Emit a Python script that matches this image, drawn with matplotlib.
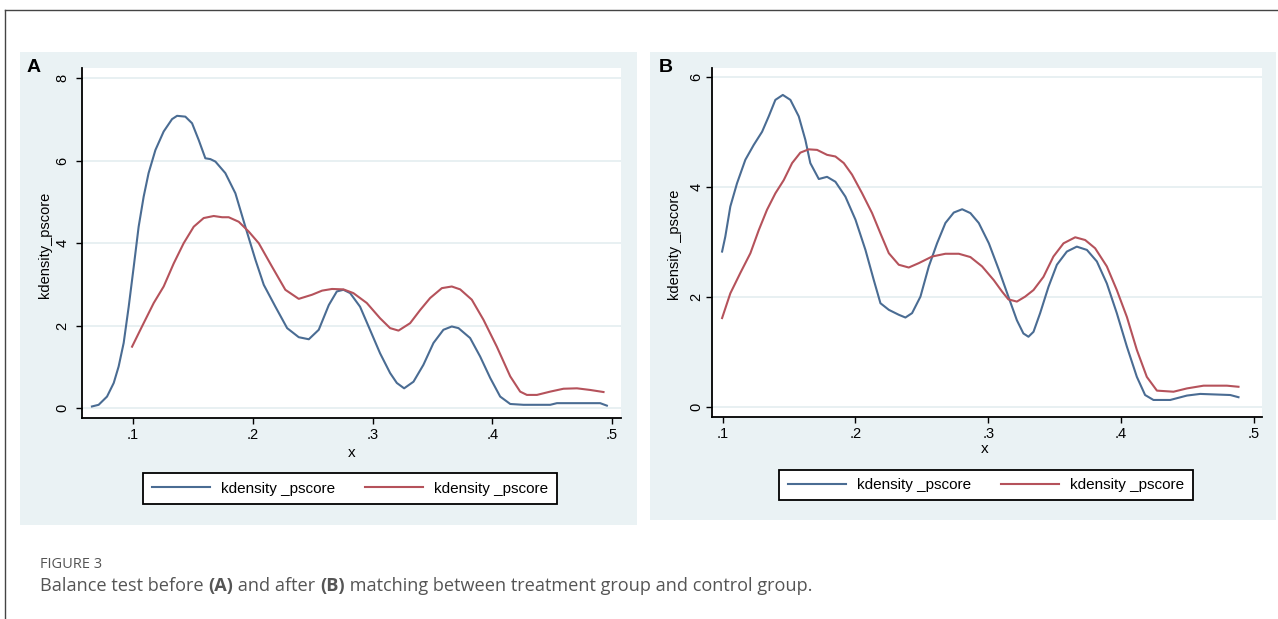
import matplotlib
matplotlib.use("Agg")
import matplotlib.pyplot as plt
from matplotlib.patches import Rectangle
from matplotlib.lines import Line2D

# Panel A: before matching
a_blue_x = [0.0657, 0.0713, 0.0783, 0.0839, 0.0880, 0.0922, 0.0964, 0.1006, 0.1047, 0.1089,
            0.1130, 0.1187, 0.1256, 0.1326, 0.1368, 0.1437, 0.1493, 0.1549, 0.1604, 0.1646,
            0.1688, 0.1771, 0.1855, 0.1938, 0.2022, 0.2092, 0.2189, 0.2287, 0.2384, 0.2468,
            0.2551, 0.2635, 0.2702, 0.2757, 0.2813, 0.2896, 0.2979, 0.3063, 0.3147, 0.3203,
            0.3264, 0.3342, 0.3425, 0.3509, 0.3592, 0.3662, 0.3718, 0.3815, 0.3899, 0.3983,
            0.4066, 0.4150, 0.4261, 0.4484, 0.4540, 0.4901, 0.4957]
a_blue_y = [0.04, 0.08, 0.28, 0.61, 1.01, 1.58, 2.46, 3.43, 4.40, 5.13,
            5.70, 6.26, 6.71, 7.01, 7.09, 7.07, 6.91, 6.50, 6.06, 6.04,
            5.98, 5.70, 5.21, 4.40, 3.60, 2.99, 2.46, 1.94, 1.72, 1.67,
            1.90, 2.50, 2.83, 2.87, 2.79, 2.46, 1.90, 1.33, 0.85, 0.61,
            0.48, 0.64, 1.05, 1.58, 1.90, 1.98, 1.94, 1.70, 1.25, 0.73,
            0.28, 0.10, 0.08, 0.08, 0.12, 0.12, 0.06]
a_red_x = [0.0992, 0.1075, 0.1173, 0.1256, 0.1340, 0.1423, 0.1507, 0.1590, 0.1674, 0.1744,
           0.1799, 0.1883, 0.1967, 0.2050, 0.2161, 0.2272, 0.2384, 0.2495, 0.2579, 0.2662,
           0.2757, 0.2840, 0.2952, 0.3063, 0.3147, 0.3217, 0.3314, 0.3398, 0.3481, 0.3579,
           0.3662, 0.3732, 0.3829, 0.3927, 0.4038, 0.4150, 0.4233, 0.4289, 0.4373, 0.4484,
           0.4595, 0.4707, 0.4818, 0.4929]
a_red_y = [1.49, 1.98, 2.55, 2.95, 3.51, 4.00, 4.40, 4.61, 4.66, 4.63,
           4.63, 4.52, 4.28, 4.00, 3.43, 2.87, 2.65, 2.75, 2.85, 2.89,
           2.88, 2.79, 2.55, 2.18, 1.94, 1.88, 2.06, 2.38, 2.67, 2.91,
           2.95, 2.88, 2.63, 2.14, 1.49, 0.77, 0.40, 0.32, 0.32, 0.40,
           0.47, 0.48, 0.44, 0.39]

# Panel B: after matching
b_blue_x = [0.0996, 0.1020, 0.1058, 0.1108, 0.1171, 0.1234, 0.1297, 0.1347, 0.1397, 0.1453,
            0.1510, 0.1573, 0.1623, 0.1660, 0.1724, 0.1786, 0.1849, 0.1924, 0.2000, 0.2075,
            0.2138, 0.2188, 0.2251, 0.2326, 0.2376, 0.2426, 0.2489, 0.2552, 0.2614, 0.2677,
            0.2740, 0.2803, 0.2865, 0.2928, 0.3004, 0.3079, 0.3151, 0.3215, 0.3264, 0.3302,
            0.3340, 0.3390, 0.3453, 0.3516, 0.3591, 0.3666, 0.3742, 0.3817, 0.3892, 0.3967,
            0.4043, 0.4118, 0.4180, 0.4243, 0.4369, 0.4495, 0.4595, 0.4821, 0.4883]
b_blue_y = [2.83, 3.10, 3.65, 4.07, 4.50, 4.77, 5.01, 5.29, 5.59, 5.68,
            5.59, 5.29, 4.86, 4.44, 4.15, 4.19, 4.10, 3.83, 3.41, 2.86,
            2.31, 1.89, 1.77, 1.68, 1.63, 1.71, 2.01, 2.56, 2.98, 3.35,
            3.54, 3.60, 3.53, 3.35, 2.98, 2.50, 2.01, 1.58, 1.34, 1.28,
            1.37, 1.71, 2.19, 2.59, 2.83, 2.92, 2.86, 2.65, 2.25, 1.71,
            1.10, 0.55, 0.22, 0.13, 0.13, 0.21, 0.24, 0.22, 0.18]
b_red_x = [0.0996, 0.1058, 0.1133, 0.1209, 0.1272, 0.1334, 0.1397, 0.1460, 0.1523, 0.1585,
           0.1648, 0.1711, 0.1786, 0.1849, 0.1912, 0.1974, 0.2050, 0.2125, 0.2188, 0.2251,
           0.2326, 0.2401, 0.2477, 0.2577, 0.2677, 0.2778, 0.2865, 0.2953, 0.3041, 0.3104,
           0.3151, 0.3215, 0.3277, 0.3340, 0.3415, 0.3490, 0.3566, 0.3654, 0.3729, 0.3804,
           0.3892, 0.3967, 0.4043, 0.4118, 0.4193, 0.4269, 0.4394, 0.4495, 0.4620, 0.4796,
           0.4883]
b_red_y = [1.62, 2.07, 2.44, 2.80, 3.22, 3.59, 3.89, 4.13, 4.44, 4.63,
           4.69, 4.68, 4.59, 4.56, 4.44, 4.23, 3.89, 3.53, 3.16, 2.80,
           2.59, 2.54, 2.62, 2.74, 2.79, 2.79, 2.73, 2.56, 2.31, 2.10,
           1.96, 1.92, 2.01, 2.13, 2.37, 2.74, 2.98, 3.09, 3.04, 2.89,
           2.56, 2.13, 1.64, 1.04, 0.55, 0.30, 0.28, 0.34, 0.39, 0.39,
           0.37]

x_ticks = [0.1, 0.2, 0.3, 0.4, 0.5]
x_labels = [".1", ".2", ".3", ".4", ".5"]
a_yticks = [0, 2, 4, 6, 8]
b_yticks = [0, 2, 4, 6]
legend_labels = ["kdensity _pscore", "kdensity _pscore"]

W, H = 1278, 619
BLUE = "#4a6c93"
RED = "#b5525b"
PANEL_BG = "#eaf2f4"
GRID = "#e4eef0"
STATA_FONT = ["Liberation Sans", "DejaVu Sans"]

fig = plt.figure(figsize=(W / 100, H / 100), dpi=100)


def px_rect(x0, y0, x1, y1):
    # pixel box (top-left origin) -> figure fraction [left, bottom, width, height]
    return [x0 / W, 1 - y1 / H, (x1 - x0) / W, (y1 - y0) / H]


# outer frame (top + left line)
fig.add_artist(Line2D([5 / W, 1], [1 - 10 / H, 1 - 10 / H], color="#444444", lw=1))
fig.add_artist(Line2D([5 / W, 5 / W], [0, 1 - 10 / H], color="#444444", lw=1))

# panel backgrounds
for box in [(20, 52, 637, 525), (650, 52, 1276, 520)]:
    l, b, w, h = px_rect(*box)
    fig.add_artist(Rectangle((l, b), w, h, transform=fig.transFigure,
                             facecolor=PANEL_BG, edgecolor="none", zorder=0))


def draw_panel(rect, xlim, ylim, yticks, ypad, blue_x, blue_y, red_x, red_y,
               letter, letter_pos, ylabel, ylabel_pos, xlabel_pos, legend_box):
    ax = fig.add_axes(px_rect(*rect))
    ax.set_facecolor("white")
    ax.plot(blue_x, blue_y, color=BLUE, lw=1.5)
    ax.plot(red_x, red_y, color=RED, lw=1.5)
    ax.set_xlim(*xlim)
    ax.set_ylim(*ylim)
    ax.set_xticks(x_ticks)
    ax.set_xticklabels(x_labels, fontfamily=STATA_FONT, fontsize=10.5)
    ax.set_yticks(yticks)
    ax.set_yticklabels([str(t) for t in yticks], fontfamily=STATA_FONT, fontsize=10.5,
                       rotation=90, va="center")
    ax.tick_params(direction="out", length=4, width=1)
    ax.tick_params(axis="x", pad=3)
    ax.tick_params(axis="y", pad=ypad)
    ax.grid(axis="y", color=GRID, lw=1.2)
    ax.set_axisbelow(True)
    for s in ["top", "right"]:
        ax.spines[s].set_visible(False)
    for s in ["left", "bottom"]:
        ax.spines[s].set_linewidth(1.3)
    fig.text(letter_pos[0] / W, 1 - letter_pos[1] / H, letter, fontsize=14,
             fontweight="bold", family=STATA_FONT, ha="left", va="center")
    fig.text(ylabel_pos[0] / W, 1 - ylabel_pos[1] / H, ylabel, fontsize=10.5,
             family=STATA_FONT, rotation=90, ha="center", va="center")
    fig.text(xlabel_pos[0] / W, 1 - xlabel_pos[1] / H, "x", fontsize=11,
             family=STATA_FONT, ha="center", va="center")
    handles = [Line2D([], [], color=BLUE, lw=1.5), Line2D([], [], color=RED, lw=1.5)]
    l, b, w, h = px_rect(*legend_box)
    leg = fig.legend(handles, legend_labels, loc="center",
                     bbox_to_anchor=(l + w / 2, b + h / 2), ncol=2, frameon=True,
                     fancybox=False, edgecolor="black", framealpha=1,
                     handlelength=3.8, handletextpad=0.7, columnspacing=2.0,
                     borderpad=0.55, prop={"family": STATA_FONT, "size": 11})
    leg.get_frame().set_linewidth(1.3)
    return ax


draw_panel((82, 68, 621, 418), (0.0574, 0.5075), (-0.24, 8.25), a_yticks, 5,
           a_blue_x, a_blue_y, a_red_x, a_red_y,
           "A", (27, 68), "kdensity_pscore", (45, 245), (352, 453),
           (143, 474, 557, 503))
draw_panel((712, 68, 1262, 417), (0.092, 0.506), (-0.18, 6.17), b_yticks, 2,
           b_blue_x, b_blue_y, b_red_x, b_red_y,
           "B", (659, 68), "kdensity _pscore", (675, 245), (985, 449),
           (774, 470, 1198, 500))

# caption
fig.text(40 / W, 1 - 565 / H, "FIGURE 3", fontsize=10.5, color="#555555",
         family=["Open Sans", "DejaVu Sans"], ha="left", va="center")

pieces = [("Balance test before ", "normal"), ("(A)", "bold"), (" and after ", "normal"),
          ("(B)", "bold"), (" matching between treatment group and control group.", "normal")]
fig.canvas.draw()
renderer = fig.canvas.get_renderer()
x = 40 / W
for txt, weight in pieces:
    t = fig.text(x, 1 - 586 / H, txt, fontsize=13.1, color="#555555", fontweight=weight,
                 family=["Open Sans", "DejaVu Sans"], ha="left", va="center")
    bb = t.get_window_extent(renderer=renderer)
    x += bb.width / W

fig.savefig("out.png", dpi=100)
